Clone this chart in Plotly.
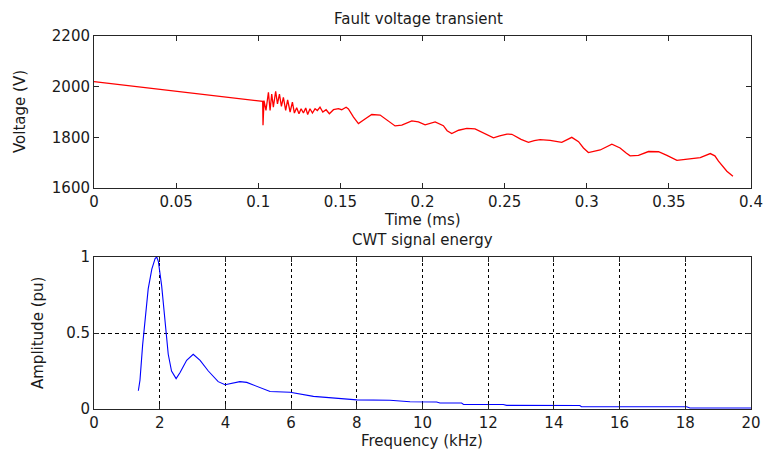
import plotly.graph_objects as go

# ---- Top panel: fault voltage transient ----
time_ms = [0.0, 0.1027, 0.1029, 0.1035, 0.1047, 0.1062, 0.1072, 0.1082, 0.1092, 0.1106,
           0.1117, 0.1129, 0.1141, 0.1153, 0.1167, 0.1179, 0.1194, 0.1208, 0.1220, 0.1234,
           0.1248, 0.1261, 0.1275, 0.1289, 0.1301, 0.1315, 0.1330, 0.1346, 0.1360, 0.1376,
           0.1393, 0.1413, 0.1433, 0.1458, 0.1488, 0.1508, 0.1535, 0.1549, 0.1580, 0.1610,
           0.1650, 0.1691, 0.1742, 0.1790, 0.1833, 0.1874, 0.1935, 0.1975, 0.2016, 0.2077,
           0.2127, 0.2150, 0.2178, 0.2220, 0.2270, 0.2320, 0.2380, 0.2432, 0.2470, 0.2514,
           0.2544, 0.2600, 0.2645, 0.2680, 0.2716, 0.2777, 0.2848, 0.2909, 0.2950, 0.2980,
           0.3010, 0.3082, 0.3153, 0.3203, 0.3240, 0.3264, 0.3315, 0.3376, 0.3437, 0.3488,
           0.3549, 0.3630, 0.3691, 0.3752, 0.3780, 0.3802, 0.3830, 0.3853, 0.3890]
voltage_v = [2020, 1942, 1848, 1945, 1906, 1978, 1906, 1971, 1919, 1982,
             1932, 1971, 1922, 1958, 1906, 1948, 1900, 1939, 1896, 1917,
             1893, 1913, 1896, 1916, 1890, 1913, 1896, 1913, 1906, 1919,
             1900, 1909, 1893, 1909, 1913, 1909, 1919, 1912, 1880, 1854,
             1872, 1890, 1888, 1866, 1845, 1848, 1865, 1861, 1849, 1861,
             1846, 1826, 1815, 1828, 1835, 1833, 1815, 1798, 1806, 1813,
             1812, 1792, 1780, 1787, 1791, 1788, 1780, 1800, 1783, 1758,
             1740, 1750, 1773, 1758, 1738, 1727, 1729, 1744, 1743, 1729,
             1709, 1714, 1720, 1736, 1727, 1706, 1685, 1666, 1646]

# ---- Bottom panel: CWT signal energy ----
freq_khz = [1.35, 1.40, 1.48, 1.55, 1.65, 1.76, 1.86, 1.91, 1.96, 2.06,
            2.16, 2.26, 2.36, 2.50, 2.62, 2.82, 3.02, 3.23, 3.48, 3.78,
            3.99, 4.44, 4.65, 4.95, 5.36, 5.97, 6.68, 8.0, 9.01, 9.62,
            10.43, 10.53, 11.19, 11.25, 12.46, 12.56, 14.79, 14.84, 18.04, 18.14, 20.0]
amplitude_pu = [0.12, 0.19, 0.42, 0.57, 0.79, 0.92, 0.99, 1.0, 0.97, 0.81,
                0.57, 0.36, 0.25, 0.20, 0.24, 0.32, 0.36, 0.32, 0.25, 0.18,
                0.16, 0.18, 0.175, 0.15, 0.115, 0.11, 0.083, 0.06, 0.058, 0.048,
                0.046, 0.039, 0.039, 0.030, 0.030, 0.024, 0.023, 0.015, 0.015, 0.007, 0.007]

time_ticks = [0, 0.05, 0.1, 0.15, 0.2, 0.25, 0.3, 0.35, 0.4]
time_ticklabels = ["0", "0.05", "0.1", "0.15", "0.2", "0.25", "0.3", "0.35", "0.4"]
volt_ticks = [1600, 1800, 2000, 2200]
freq_ticks = [0, 2, 4, 6, 8, 10, 12, 14, 16, 18, 20]
amp_ticks = [0, 0.5, 1]
amp_ticklabels = ["0", "0.5", "1"]

FONT = "DejaVu Sans, Arial, sans-serif"
FS = 15
TXT = "#1a1a1a"

fig = go.Figure()
fig.add_trace(go.Scatter(x=time_ms, y=voltage_v, mode="lines",
                         line=dict(color="#ff0000", width=1.3),
                         xaxis="x", yaxis="y", showlegend=False))
fig.add_trace(go.Scatter(x=freq_khz, y=amplitude_pu, mode="lines",
                         line=dict(color="#0000ff", width=1.1),
                         xaxis="x2", yaxis="y2", showlegend=False))

axis_common = dict(showline=True, linecolor="#262626", linewidth=1, mirror="allticks",
                   ticks="inside", ticklen=5, tickcolor="#262626", automargin=False,
                   tickfont=dict(family=FONT, size=FS, color=TXT), zeroline=False)

top_h = 152 / 373
fig.update_layout(
    width=764, height=453,
    margin=dict(l=94, r=13, t=36, b=44),
    paper_bgcolor="white", plot_bgcolor="white",
    xaxis=dict(domain=[0, 1], anchor="y", range=[0, 0.4], tickvals=time_ticks,
               ticktext=time_ticklabels, showgrid=False, **axis_common),
    yaxis=dict(domain=[1 - top_h, 1], anchor="x", range=[1600, 2200], tickvals=volt_ticks,
               showgrid=False, **axis_common),
    xaxis2=dict(domain=[0, 1], anchor="y2", range=[0, 20], tickvals=freq_ticks,
                showgrid=True, gridcolor="#000000", gridwidth=1, griddash="3px,3px",
                **axis_common),
    yaxis2=dict(domain=[0, top_h], anchor="x2", range=[0, 1], tickvals=amp_ticks,
                ticktext=amp_ticklabels,
                showgrid=True, gridcolor="#000000", gridwidth=1, griddash="4px,3px",
                **axis_common),
)

def label(text, x, y, angle=0):
    fig.add_annotation(text=text, xref="paper", yref="paper", x=x, y=y,
                       xanchor="center", yanchor="middle", showarrow=False,
                       textangle=angle, font=dict(family=FONT, size=FS, color=TXT))

label("Fault voltage transient", (418 - 94) / 657, (409 - 19) / 373)
label("Time (ms)", (422 - 94) / 657, (409 - 220) / 373)
label("CWT signal energy", (422 - 94) / 657, (409 - 240) / 373)
label("Frequency (kHz)", (422 - 94) / 657, (409 - 441) / 373)
label("Voltage (V)", (20 - 94) / 657, (409 - 112) / 373, -90)
label("Amplitude (pu)", (38 - 94) / 657, (409 - 333) / 373, -90)

fig.write_html("out.html")
